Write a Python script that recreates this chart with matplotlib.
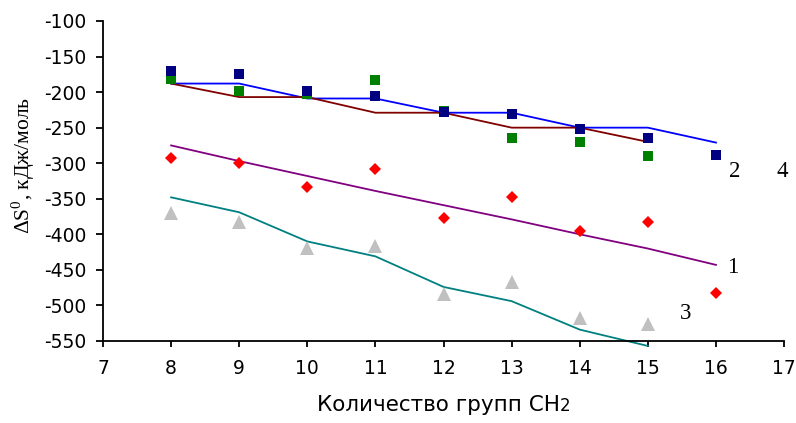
import numpy as np
import matplotlib.pyplot as plt

plt.rcParams['font.family'] = ['DejaVu Sans']
plt.rcParams['axes.unicode_minus'] = False
plt.rcParams['mathtext.fontset'] = 'custom'
plt.rcParams['mathtext.rm'] = 'Liberation Serif'

# Количество групп CH2
n_ch2 = [8, 9, 10, 11, 12, 13, 14, 15, 16]
n_ch2_short = [8, 9, 10, 11, 12, 13, 14, 15]

# экспериментальные точки, ΔS0 (кДж/моль)
exp_navy = [-170, -175, -198, -206, -228, -231, -252, -264, -288]
exp_green = [-181, -198, -202, -183, -226, -265, -270, -290]
exp_red = [-293, -300, -333, -308, -377, -347, -395, -383, -482]
exp_grey = [-370, -383, -419, -416, -484, -467, -518, -526]

# расчетные кривые
calc_blue = [-188, -188, -209, -209, -229, -229, -250, -250, -271]
calc_brown = [-188, -207, -207, -229, -229, -250, -250, -270]
calc_purple = [-275, -297, -318, -339, -359, -379, -400, -420, -443]
calc_teal = [-348, -369, -410, -431, -474, -494, -534, -557]

# подписи кривых
curve_labels = ['2', '4', '1', '3']
label_x = [16.27, 16.97, 16.25, 15.56]
label_y = [-312, -312, -446, -512]

fig = plt.figure(figsize=(7.96, 4.23), dpi=100)
ax = fig.add_axes([0.1294, 0.1939, 0.8556, 0.7565])

lw = 1.3
ax.plot(n_ch2, calc_blue, color='#0000FF', lw=lw, zorder=2)
ax.plot(n_ch2_short, calc_brown, color='#800000', lw=lw, zorder=2)
ax.plot(n_ch2, calc_purple, color='#800080', lw=lw, zorder=2)
ax.plot(n_ch2_short, calc_teal, color='#008080', lw=lw, zorder=2, clip_on=False)

ax.plot(n_ch2_short, exp_green, 's', color='#008000', ms=7.3, mew=0, zorder=3)
ax.plot(n_ch2, exp_navy, 's', color='#000080', ms=7.9, mew=0, zorder=4)
ax.plot(n_ch2, exp_red, 'D', color='#FF0000', ms=6.6, mew=0, zorder=3)
ax.plot(n_ch2_short, exp_grey, '^', color='#C0C0C0', ms=9.4, mew=0, zorder=3)

for t, x, y in zip(curve_labels, label_x, label_y):
    ax.text(x, y, t, fontsize=16.5, family='Liberation Serif', ha='center', va='center')

ax.set_xlim(7, 17)
ax.set_ylim(-550, -100)
ax.set_xticks(np.arange(7, 18, 1))
ax.set_yticks(np.arange(-550, -99, 50))

for s in ['top', 'right']:
    ax.spines[s].set_visible(False)
for s in ['left', 'bottom']:
    ax.spines[s].set_linewidth(1.3)

ax.tick_params(axis='y', direction='out', length=5, width=1.3, labelsize=13.5, pad=7)
ax.tick_params(axis='x', direction='out', length=4, width=1.3, labelsize=13.5, pad=9)

ax.set_ylabel(r'$\Delta$S$^{\mathrm{0}}$, кДж/моль', family='Liberation Serif',
              fontsize=15.5, va='center', ha='center')
ax.yaxis.set_label_coords(-0.1175, 0.55)

xl = ax.set_xlabel('Количество групп CH', fontsize=15.5, va='center', ha='center')
ax.xaxis.set_label_coords(0.492, -0.2)
ax.annotate('2', xy=(1, 0), xycoords=xl, fontsize=12, ha='left', va='bottom')

fig.savefig('out.png', dpi=100)
